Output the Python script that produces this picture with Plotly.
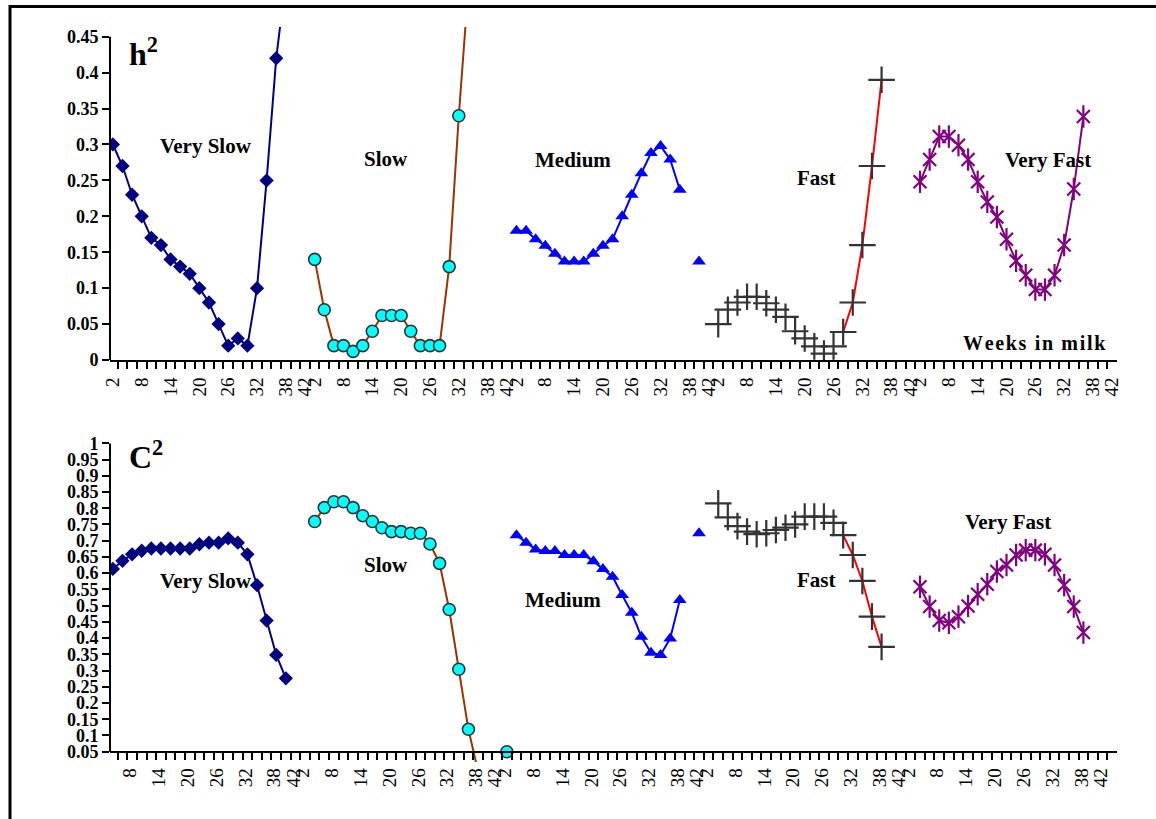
import plotly.graph_objects as go

W, H = 1156, 819

# ---------------- data ----------------
WEEKS = [2, 4, 6, 8, 10, 12, 14, 16, 18, 20, 22, 24, 26, 28, 30, 32, 34, 36, 38, 40, 42]
GROUPS = ["Very Slow", "Slow", "Medium", "Fast", "Very Fast"]
GROUP_SPAN = 42  # width (in weeks) of each group's block on the shared axis

# heritability h2 per group (weeks 2..42)
H2_VERY_SLOW = [0.30, 0.27, 0.23, 0.20, 0.17, 0.16, 0.14, 0.13, 0.12, 0.10, 0.08, 0.05, 0.02, 0.03, 0.02, 0.10, 0.25, 0.42, 0.53, None, None]
H2_SLOW = [0.14, 0.07, 0.02, 0.02, 0.012, 0.02, 0.04, 0.062, 0.062, 0.062, 0.04, 0.02, 0.02, 0.02, 0.13, 0.34, 0.52, None, None, None, None]
H2_MEDIUM = [0.18, 0.18, 0.168, 0.159, 0.148, 0.137, 0.137, 0.137, 0.148, 0.159, 0.168, 0.20, 0.23, 0.26, 0.288, 0.298, 0.279, 0.237, None, 0.137, None]
H2_FAST = [0.05, 0.07, 0.08, 0.088, 0.088, 0.079, 0.07, 0.06, 0.04, 0.03, 0.019, 0.009, 0.019, 0.039, 0.08, 0.16, 0.27, 0.39, None, None, None]
H2_VERY_FAST = [0.248, 0.279, 0.311, 0.311, 0.299, 0.279, 0.248, 0.22, 0.199, 0.168, 0.138, 0.118, 0.098, 0.098, 0.118, 0.16, 0.238, 0.339, None, None, None]

# c2 per group (weeks 2..42)
C2_VERY_SLOW = [0.613, 0.638, 0.658, 0.669, 0.676, 0.676, 0.676, 0.676, 0.676, 0.689, 0.694, 0.694, 0.707, 0.694, 0.658, 0.563, 0.454, 0.348, 0.276, None, None]
C2_SLOW = [0.759, 0.802, 0.820, 0.820, 0.802, 0.777, 0.759, 0.740, 0.728, 0.728, 0.723, 0.723, 0.690, 0.630, 0.488, 0.304, 0.119, -0.01, None, None, 0.05]
C2_MEDIUM = [0.717, 0.694, 0.673, 0.668, 0.668, 0.656, 0.656, 0.656, 0.637, 0.613, 0.589, 0.533, 0.478, 0.404, 0.355, 0.348, 0.399, 0.517, None, 0.723, None]
C2_FAST = [0.815, 0.772, 0.745, 0.728, 0.72, 0.723, 0.733, 0.74, 0.75, 0.774, 0.774, 0.774, 0.755, 0.717, 0.656, 0.576, 0.466, 0.373, None, None, None]
C2_VERY_FAST = [0.558, 0.497, 0.454, 0.447, 0.466, 0.499, 0.535, 0.566, 0.605, 0.625, 0.656, 0.671, 0.671, 0.658, 0.625, 0.563, 0.497, 0.417, None, None, None]

FAST_RED_FROM_WEEK = 28  # Fast curve drawn in red from this week on

TICK_WEEKS = [2, 8, 14, 20, 26, 32, 38, 42]
TICK_TEXT = ["2", "8", "14", "20", "26", "32", "38", "42"]
Y_TOP_TICKS = [0, 0.05, 0.1, 0.15, 0.2, 0.25, 0.3, 0.35, 0.4, 0.45]
Y_TOP_TEXT = ["0", "0.05", "0.1", "0.15", "0.2", "0.25", "0.3", "0.35", "0.4", "0.45"]
Y_BOT_TICKS = [0.05, 0.1, 0.15, 0.2, 0.25, 0.3, 0.35, 0.4, 0.45, 0.5, 0.55, 0.6, 0.65, 0.7, 0.75, 0.8, 0.85, 0.9, 0.95, 1.0]
Y_BOT_TEXT = ["0.05", "0.1", "0.15", "0.2", "0.25", "0.3", "0.35", "0.4", "0.45", "0.5", "0.55", "0.6", "0.65", "0.7", "0.75", "0.8", "0.85", "0.9", "0.95", "1"]

H2_SERIES = [H2_VERY_SLOW, H2_SLOW, H2_MEDIUM, H2_FAST, H2_VERY_FAST]
C2_SERIES = [C2_VERY_SLOW, C2_SLOW, C2_MEDIUM, C2_FAST, C2_VERY_FAST]

# ---------------- styling / layout ----------------
SERIF = "Liberation Serif, Times New Roman, serif"


def px_x(p):
    return p / W


def px_y(p):
    return 1 - p / H


fig = go.Figure()


def add_group(gi, vals, xa, ya):
    off = gi * GROUP_SPAN
    xs = [off + w for w in WEEKS]
    name = GROUPS[gi]
    common = dict(xaxis=xa, yaxis=ya, showlegend=False, connectgaps=False, hoverinfo="skip")
    if name == "Very Slow":
        fig.add_trace(go.Scatter(x=xs, y=vals, mode="lines+markers",
                                 line=dict(color="#000080", width=2),
                                 marker=dict(symbol="diamond", size=11, color="#000080"), **common))
    elif name == "Slow":
        fig.add_trace(go.Scatter(x=xs, y=vals, mode="lines+markers",
                                 line=dict(color="#993300", width=2),
                                 marker=dict(symbol="circle", size=12, color="#00FFFF",
                                             line=dict(color="#333333", width=1.6)), **common))
    elif name == "Medium":
        fig.add_trace(go.Scatter(x=xs, y=vals, mode="lines+markers",
                                 line=dict(color="#0000FF", width=2),
                                 marker=dict(symbol="triangle-up", size=12, color="#0000FF"), **common))
    elif name == "Fast":
        k = WEEKS.index(FAST_RED_FROM_WEEK)
        fig.add_trace(go.Scatter(x=xs[k:], y=vals[k:], mode="lines",
                                 line=dict(color="#FF0000", width=2), **common))
        fig.add_trace(go.Scatter(x=xs, y=vals, mode="markers",
                                 marker=dict(symbol="cross-thin", size=19,
                                             line=dict(color="#333333", width=2.2)), **common))
    else:
        fig.add_trace(go.Scatter(x=xs, y=vals, mode="lines+markers",
                                 line=dict(color="#800080", width=2),
                                 marker=dict(symbol="x-thin", size=13,
                                             line=dict(color="#800080", width=2.2)), **common))
        fig.add_trace(go.Scatter(x=xs, y=vals, mode="markers",
                                 marker=dict(symbol="line-ns", size=16,
                                             line=dict(color="#800080", width=2.2)), **common))


for gi in range(5):
    add_group(gi, H2_SERIES[gi], "x", "y")
    add_group(gi, C2_SERIES[gi], "x2", "y2")

XDOM = [px_x(110), px_x(1117)]
XRANGE = [1.4, 211.0]
minor_ticks = [v for v in range(3, 211, 2)]
top_tickvals = [g * GROUP_SPAN + w for g in range(5) for w in TICK_WEEKS]
top_ticktext = [t for g in range(5) for t in TICK_TEXT]
BOT_SHIFT = -2.4
bot_tickvals = [v + BOT_SHIFT for v in top_tickvals]

xcommon = dict(range=XRANGE, domain=XDOM, showgrid=False, zeroline=False, automargin=False,
               showline=True, linecolor="black", linewidth=2,
               tickmode="array", tickangle=-90, ticklabelstandoff=1,
               ticks="outside", ticklen=7, tickcolor="rgba(0,0,0,0)",
               tickfont=dict(family=SERIF, size=19, color="black"),
               minor=dict(tickmode="array", tickvals=minor_ticks, ticks="outside",
                          ticklen=7, tickwidth=1.6, tickcolor="black", showgrid=False))
ycommon = dict(showgrid=False, zeroline=False, showline=False, automargin=False,
               tickmode="array", ticks="outside", ticklen=7, tickwidth=2, tickcolor="black",
               tickfont=dict(family=SERIF, size=18, color="black", weight="bold"))

fig.update_layout(
    width=W, height=H, autosize=False,
    margin=dict(l=0, r=0, t=0, b=0, autoexpand=False),
    paper_bgcolor="white", plot_bgcolor="white",
    xaxis=dict(anchor="y", tickvals=top_tickvals, ticktext=top_ticktext, **xcommon),
    yaxis=dict(anchor="x", domain=[px_y(360), px_y(27)], range=[0, 0.4635],
               tickvals=Y_TOP_TICKS, ticktext=Y_TOP_TEXT, **ycommon),
    xaxis2=dict(anchor="free", position=px_y(751.7),
                tickvals=bot_tickvals, ticktext=top_ticktext, **xcommon),
    yaxis2=dict(anchor="x2", domain=[px_y(762), px_y(443.3)], range=[0.0183, 1.0],
                tickvals=Y_BOT_TICKS, ticktext=Y_BOT_TEXT, **ycommon),
)

shapes = [
    # outer frame (partly outside the page, as in the reference)
    dict(type="rect", xref="paper", yref="paper", x0=px_x(10), x1=1.05,
         y0=px_y(6.5), y1=-0.05, line=dict(color="black", width=3), layer="above"),
    # y axis lines
    dict(type="line", xref="x domain", yref="y", x0=0, x1=0, y0=0, y1=0.45,
         line=dict(color="black", width=2)),
    dict(type="line", xref="x2 domain", yref="y2", x0=0, x1=0, y0=0.05, y1=1.0,
         line=dict(color="black", width=2)),
]
fig.update_layout(shapes=shapes)

LABEL_FONT = dict(family=SERIF, size=21, color="black", weight="bold")
top_labels = [("Very Slow", 206, 146), ("Slow", 386, 159), ("Medium", 573, 160),
              ("Fast", 816, 178), ("Very Fast", 1048, 160)]
bot_labels = [("Very Slow", 206, 581), ("Slow", 386, 565), ("Medium", 563, 600),
              ("Fast", 816, 580), ("Very Fast", 1008, 522)]
ann = []
for txt, x, y in top_labels + bot_labels:
    ann.append(dict(text=txt, x=px_x(x), y=px_y(y), xref="paper", yref="paper",
                    showarrow=False, xanchor="center", yanchor="middle", font=LABEL_FONT))
ann.append(dict(text="h<sup>2</sup>", x=px_x(127), y=px_y(52), xref="paper", yref="paper",
                showarrow=False, xanchor="left", yanchor="middle",
                font=dict(family=SERIF, size=32, color="black", weight="bold")))
ann.append(dict(text="C<sup>2</sup>", x=px_x(127), y=px_y(455), xref="paper", yref="paper",
                showarrow=False, xanchor="left", yanchor="middle",
                font=dict(family=SERIF, size=32, color="black", weight="bold")))
hs = "\u200a"
ann.append(dict(text=hs.join("Weeks in milk"), x=px_x(1034), y=px_y(343), xref="paper", yref="paper",
                showarrow=False, xanchor="center", yanchor="middle",
                font=dict(family=SERIF, size=20, color="black", weight="bold")))
fig.update_layout(annotations=ann)

fig.write_html("out.html", config={"displayModeBar": False},
               post_script="document.body.style.margin='0';document.body.style.overflow='hidden';")
